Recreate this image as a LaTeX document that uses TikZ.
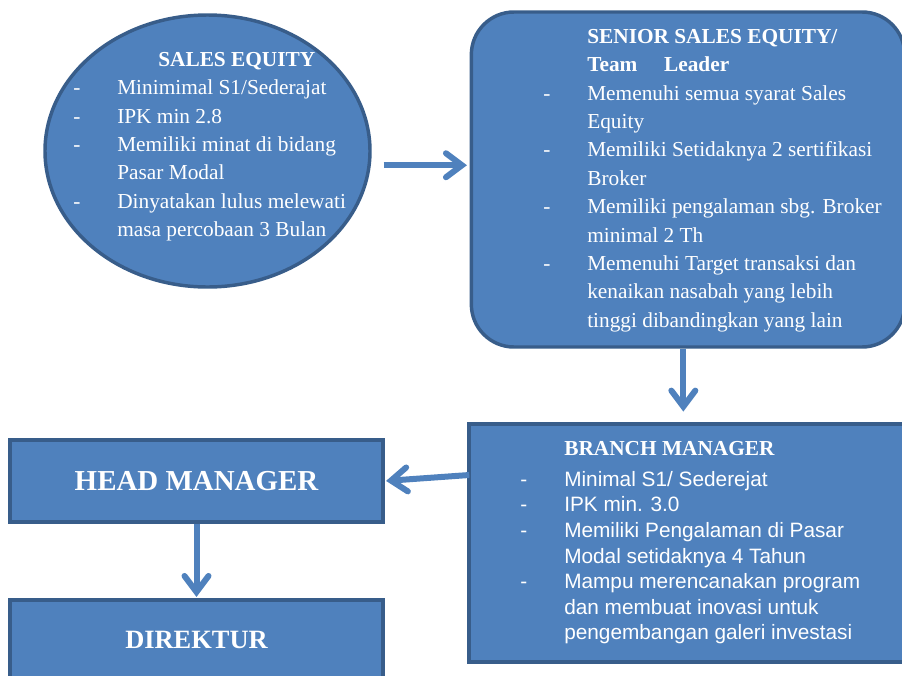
\documentclass[tikz,border=0pt]{standalone}
\usepackage{fontspec}
\setmainfont{Liberation Serif}
\setsansfont{Liberation Sans}
\usetikzlibrary{shapes.geometric, arrows.meta, positioning, calc}
\definecolor{boxfill}{HTML}{4F81BD}
\definecolor{boxline}{HTML}{385D8A}
\newcommand{\itm}{\makebox[33pt][l]{-}}
\newcommand{\ind}{\hspace*{33pt}}

\begin{document}
\begin{tikzpicture}[x=0.75pt, y=-0.75pt,
            panel/.style={rectangle, draw=boxline, line width=2.6pt, fill=boxfill, text=white},
            oval/.style={ellipse, draw=boxline, line width=2.6pt, fill=boxfill},
            body/.style={inner sep=0pt, align=left, text=white, font=\fontsize{16}{21.3}\selectfont},
            flow/.style={draw=boxfill, line width=4.5pt, -{Straight Barb[length=12pt, width=18pt, line cap=round]}}
        ]
            \useasboundingbox (0,0) rectangle (902,675);
            \clip (0,0) rectangle (902,675);

% Sales equity
            \node[oval, minimum width=243.75pt, minimum height=204pt] (sales) at (207.5,151) {};
            \node[body, anchor=north west] (salestxt) at (73,52) {\hspace*{63.75pt}\textbf{SALES EQUITY}\\
                \itm Minimimal S1/Sederajat\\
                \itm IPK min 2.8\\
                \itm Memiliki minat di bidang\\
                \ind Pasar Modal\\
                \itm Dinyatakan lulus melewati\\
                \ind masa percobaan 3 Bulan};

% Senior sales equity / team leader
            \node[panel, rounded corners=32pt, minimum width=325pt, minimum height=251.25pt] (senior) at (688,179.5) {};
            \node[body, anchor=north west] (seniortxt) at (543,29) {\ind\textbf{SENIOR SALES EQUITY/}\\
                \ind\textbf{Team\hspace{20pt}Leader}\\
                \itm Memenuhi semua syarat Sales\\
                \ind Equity\\
                \itm Memiliki Setidaknya 2 sertifikasi\\
                \ind Broker\\
                \itm Memiliki pengalaman sbg. Broker\\
                \ind minimal 2 Th\\
                \itm Memenuhi Target transaksi dan\\
                \ind kenaikan nasabah yang lebih\\
                \ind tinggi dibandingkan yang lain};

% Branch manager
            \node[panel, minimum width=327pt, minimum height=178.5pt] (branch) at (687,543) {};
            \node[body, anchor=north west, font=\sffamily\fontsize{15.6}{19.2}\selectfont] (branchtxt) at (520,441) {\ind{\rmfamily\bfseries\fontsize{16}{19.2}\selectfont BRANCH MANAGER}\\[4pt]
                \itm Minimal S1/ Sederejat\\
                \itm IPK min. 3.0\\
                \itm Memiliki Pengalaman di Pasar\\
                \ind Modal setidaknya 4 Tahun\\
                \itm Mampu merencanakan program\\
                \ind dan membuat inovasi untuk\\
                \ind pengembangan galeri investasi};

% Head manager and direktur
            \node[panel, minimum width=279.75pt, minimum height=61.5pt, font=\bfseries\fontsize{21.7}{26}\selectfont] (head) at (196.5,481) {HEAD MANAGER};
            \node[panel, minimum width=279.75pt, minimum height=60pt, font=\bfseries\fontsize{19.8}{24}\selectfont] (dir) at (196.5,640) {DIREKTUR};

% Connectors
            \coordinate (m1) at ($(sales.east)!0.5!(senior.west)$);
            \draw[flow, shorten <=9pt, shorten >=2pt] (sales.east |- m1) -- (senior.west |- m1);
            \draw[flow, shorten >=8pt] ([xshift=-3.5pt]senior.south) -- ([xshift=-3.5pt]senior.south |- branch.north);
            \draw[flow, shorten >=1pt] ($(branch.west |- head.east)+(2,-6)$) -- (head.east);
            \draw[flow, shorten >=1pt] (head.south) -- (dir.north);

        \end{tikzpicture}
\end{document}
